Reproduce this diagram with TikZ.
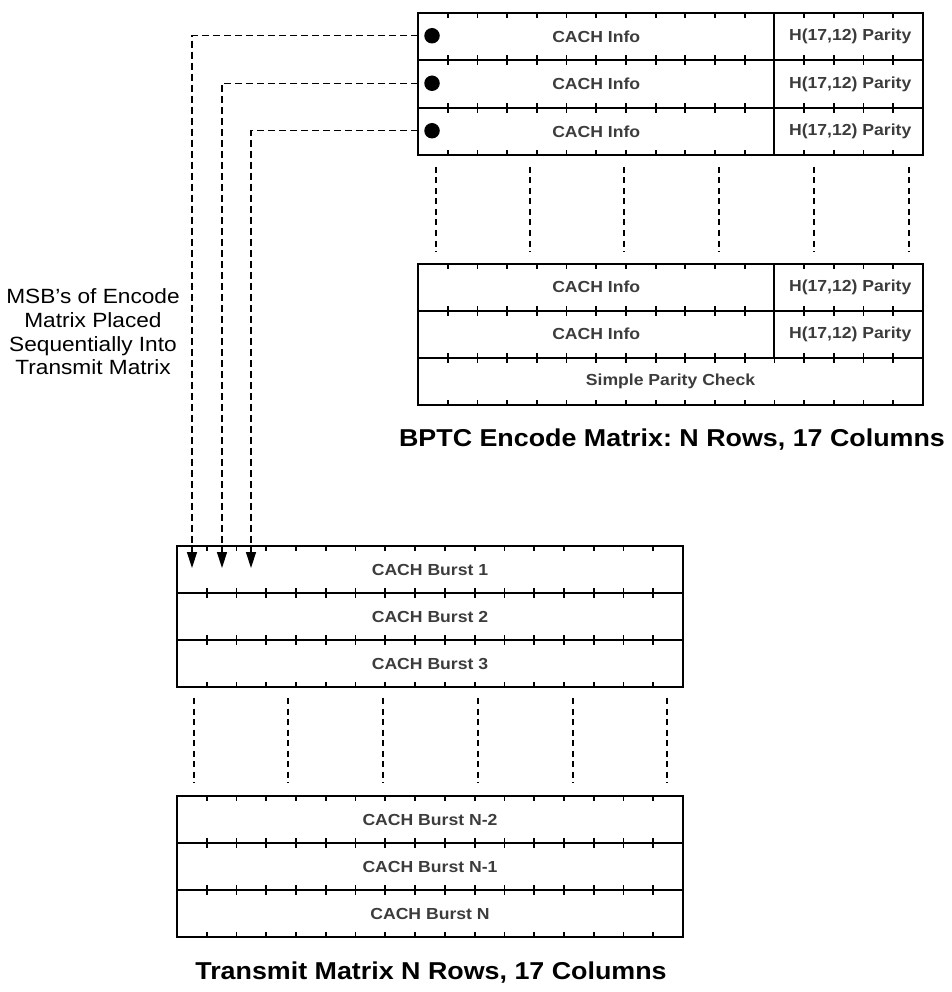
\documentclass[tikz,border=0pt]{standalone}
\usepackage{fontspec}
\setmainfont{Liberation Sans}[FakeStretch=1.1]
\usetikzlibrary{arrows.meta,calc}
\definecolor{celltext}{HTML}{3C3C3C}
\tikzset{
  rowbox/.style={draw, line width=2pt, rectangle, inner sep=0pt, outer sep=0pt, anchor=north west},
  erow/.style={rowbox, minimum width=505pt, minimum height=47.5pt},
  trow/.style={rowbox, minimum width=506pt, minimum height=47pt},
  tickmark/.style={line width=1.8pt},
  divline/.style={line width=2pt},
  celllabel/.style={font=\fontsize{16}{19}\selectfont\bfseries, text=celltext, inner sep=0pt},
  gapline/.style={dash pattern=on 6pt off 4.5pt, line width=1.6pt},
  feed/.style={dash pattern=on 7pt off 4pt, line width=1.4pt, -{Triangle[length=16pt,width=10pt]}},
  bitdot/.style={circle, fill=black, minimum size=15.5pt, inner sep=0pt},
  caption/.style={font=\fontsize{24.4}{29}\selectfont\bfseries, inner sep=0pt},
  sidelabel/.style={font=\fontsize{20.6}{23.6}\selectfont, align=center, inner sep=0pt},
}
\newcommand\rowticks[1]{%
  \foreach \k in {1,...,16}{%
    \draw[tickmark] ($(#1.north west)!\k/17!(#1.north east)$) -- ++(0,5);
    \draw[tickmark] ($(#1.south west)!\k/17!(#1.south east)$) -- ++(0,-5);
  }}
\newcommand\rowdivider[1]{%
  \draw[divline] ($(#1.north west)!12/17!(#1.north east)$) -- ($(#1.south west)!12/17!(#1.south east)$);}
\begin{document}
\frenchspacing
\begin{tikzpicture}[x=1pt,y=-1pt]
\useasboundingbox (0,0) rectangle (951,992);

% ---------- Encode matrix ----------
\node[erow] (e1) at (418,13) {};
\node[erow] (e2) at (418,60.5) {};
\node[erow] (e3) at (418,108) {};
\node[erow] (e4) at (418,263.5) {};
\node[erow] (e5) at (418,310.5) {};
\node[erow] (e6) at (418,357.5) {};
\foreach \r in {e1,e2,e3,e4,e5,e6}{\rowticks{\r}}
\foreach \r in {e1,e2,e3,e4,e5}{\rowdivider{\r}}
\foreach \r in {e1,e2,e3,e4,e5}{
  \node[celllabel] (\r i) at ($(\r.west)!6/17!(\r.east)$) {CACH Info};
  \node[celllabel] (\r p) at ($(\r.west)!14.55/17!(\r.east)$) {H(17,12) Parity};
}
\node[celllabel] (e6s) at (e6.center) {Simple Parity Check};

\foreach \x in {436,530,624,719,814,909}{\draw[gapline] (\x,167) -- (\x,252);}

\node[caption] (capE) at (672,440) {BPTC Encode Matrix: N Rows, 17 Columns};

% ---------- Transmit matrix ----------
\node[trow] (t1) at (177,546) {};
\node[trow] (t2) at (177,593) {};
\node[trow] (t3) at (177,640) {};
\node[trow] (t4) at (177,796) {};
\node[trow] (t5) at (177,843) {};
\node[trow] (t6) at (177,890) {};
\foreach \r in {t1,t2,t3,t4,t5,t6}{\rowticks{\r}}
\node[celllabel] (t1l) at (t1.center) {CACH Burst 1};
\node[celllabel] (t2l) at (t2.center) {CACH Burst 2};
\node[celllabel] (t3l) at (t3.center) {CACH Burst 3};
\node[celllabel] (t4l) at (t4.center) {CACH Burst N-2};
\node[celllabel] (t5l) at (t5.center) {CACH Burst N-1};
\node[celllabel] (t6l) at (t6.center) {CACH Burst N};

\foreach \x in {194,288,383,478,573,667}{\draw[gapline] (\x,698) -- (\x,783);}

\node[caption] (capT) at (431,973) {Transmit Matrix N Rows, 17 Columns};

% ---------- MSB feed ----------
\node[bitdot] (d1) at ($(e1.west)+(14,-1)$) {};
\node[bitdot] (d2) at ($(e2.west)+(14,-1)$) {};
\node[bitdot] (d3) at ($(e3.west)+(14,-1)$) {};
\coordinate (a1) at (192,568);
\coordinate (a2) at (222,568);
\coordinate (a3) at (251,568);
\draw[feed] ($(e1.west)+(0,-1)$) -| (a1);
\draw[feed] ($(e2.west)+(0,-1)$) -| (a2);
\draw[feed] ($(e3.west)+(0,-1)$) -| (a3);

\node[sidelabel] (lbl) at (93,332) {MSB’s of Encode\\Matrix Placed\\Sequentially Into\\Transmit Matrix};
\end{tikzpicture}
\end{document}
